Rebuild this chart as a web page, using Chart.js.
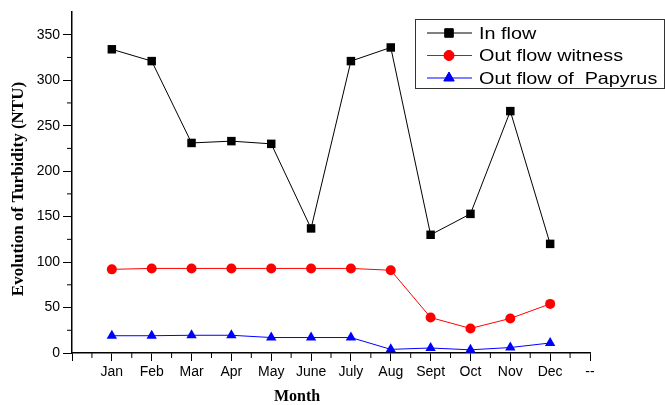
<!DOCTYPE html>
<html>
<head>
<meta charset="utf-8">
<script src="https://cdn.jsdelivr.net/npm/chart.js@4.4.1/dist/chart.umd.min.js"></script>
<style>
  html, body { margin: 0; padding: 0; background: #fff; }
  #wrap { width: 665px; height: 405px; position: relative; }
</style>
</head>
<body>
<div id="wrap"><canvas id="turbidityChart"></canvas></div>
<script>
// Data
const months = ["", "Jan", "Feb", "Mar", "Apr", "May", "June", "July", "Aug", "Sept", "Oct", "Nov", "Dec", "--"];
const inFlow = [null, 334, 321, 231, 233, 230, 137, 321, 336, 130, 153, 266, 120, null];
const outFlowWitness = [null, 92, 93, 93, 93, 93, 93, 93, 91, 39, 27, 38, 54, null];
const outFlowPapyrus = [null, 19, 19, 19.5, 19.5, 17, 17, 17, 4, 5.5, 3.5, 6, 11, null];
const yTicks = [0, 50, 100, 150, 200, 250, 300, 350];
const xTitle = "Month";
const yTitle = "Evolution of Turbidity (NTU)";

const tickFont = { family: "'Liberation Sans', Arial, sans-serif", size: 14 };
const serifBold = "bold 17px 'Liberation Serif', 'Times New Roman', serif";

// minor ticks, axis titles and a legend with line + marker
const extrasPlugin = {
  id: "extras",
  afterDraw(chart) {
    const ctx = chart.ctx;
    const x = chart.scales.x;
    const y = chart.scales.y;
    const area = chart.chartArea;
    ctx.save();
    ctx.strokeStyle = "#000";
    ctx.lineWidth = 1;
    ctx.beginPath();
    for (let i = 0; i < months.length - 1; i++) {
      const px = (x.getPixelForValue(i) + x.getPixelForValue(i + 1)) / 2;
      ctx.moveTo(px, area.bottom);
      ctx.lineTo(px, area.bottom + 5);
    }
    for (let v = 25; v < 375; v += 50) {
      const py = y.getPixelForValue(v);
      ctx.moveTo(area.left, py);
      ctx.lineTo(area.left - 5, py);
    }
    ctx.stroke();

    // axis titles
    ctx.fillStyle = "#000";
    ctx.textAlign = "center";
    ctx.textBaseline = "middle";
    ctx.font = "bold 16px 'Liberation Serif', 'Times New Roman', serif";
    ctx.fillText(xTitle, 297, 397);
    ctx.save();
    ctx.translate(19, 189);
    ctx.rotate(-Math.PI / 2);
    ctx.font = serifBold;
    ctx.fillText(yTitle, 0, 0);
    ctx.restore();

    // legend box
    const bx = 415, by = 19, bw = 249, bh = 69;
    ctx.strokeStyle = "#333";
    ctx.lineWidth = 1;
    ctx.strokeRect(bx + 0.5, by + 0.5, bw, bh);
    ctx.textAlign = "left";
    chart.data.datasets.forEach((ds, i) => {
      const ry = by + 14 + i * 22.5;
      ctx.strokeStyle = ds.borderColor;
      ctx.lineWidth = 1;
      ctx.beginPath();
      ctx.moveTo(bx + 12, ry);
      ctx.lineTo(bx + 57, ry);
      ctx.stroke();
      Chart.helpers.drawPoint(ctx, {
        pointStyle: ds.pointStyle,
        radius: ds.pointRadius,
        borderWidth: 1
      }, bx + 34, ry);
      ctx.fillStyle = ds.borderColor;
      ctx.fill();
      // text in the figure is a bit wider than plain Arial
      ctx.save();
      ctx.translate(bx + 64, ry + 1);
      ctx.scale(1.2, 1);
      ctx.font = "16.5px 'Liberation Sans', Arial, sans-serif";
      ctx.fillStyle = "#000";
      ctx.fillText(ds.label, 0, 0);
      ctx.restore();
    });
    ctx.restore();
  }
};

const ctx = document.getElementById("turbidityChart").getContext("2d");

new Chart(ctx, {
  type: "line",
  data: {
    labels: months,
    datasets: [
      {
        label: "In flow",
        data: inFlow,
        borderColor: "#000000",
        backgroundColor: "#000000",
        borderWidth: 1,
        pointStyle: "rect",
        pointRadius: 6,
        pointBorderWidth: 0,
        tension: 0
      },
      {
        label: "Out flow witness",
        data: outFlowWitness,
        borderColor: "#ff0000",
        backgroundColor: "#ff0000",
        borderWidth: 1,
        pointStyle: "circle",
        pointRadius: 5,
        pointBorderWidth: 0,
        tension: 0
      },
      {
        label: "Out flow of  Papyrus",
        data: outFlowPapyrus,
        borderColor: "#0000ff",
        backgroundColor: "#0000ff",
        borderWidth: 1,
        pointStyle: "triangle",
        pointRadius: 6,
        pointBorderWidth: 0,
        tension: 0
      }
    ]
  },
  options: {
    responsive: true,
    maintainAspectRatio: false,
    animation: false,
    layout: { padding: { top: 12, right: 75, left: 0, bottom: 0 } },
    plugins: {
      legend: { display: false },
      tooltip: { enabled: false }
    },
    scales: {
      x: {
        type: "category",
        offset: false,
        grid: { display: true, drawOnChartArea: false, tickLength: 8, color: "#000", lineWidth: 1 },
        border: { display: true, color: "#000", width: 1.5 },
        ticks: { color: "#000", font: tickFont, padding: 3, maxRotation: 0, autoSkip: false },
        afterFit: (scale) => { scale.height = 52; }
      },
      y: {
        min: 0,
        max: 375,
        grid: { display: true, drawOnChartArea: false, tickLength: 9, color: "#000", lineWidth: 1 },
        border: { display: true, color: "#000", width: 1.5 },
        ticks: { color: "#000", font: tickFont, padding: 3, stepSize: 50 },
        afterBuildTicks: (scale) => {
          scale.ticks = yTicks.map((v) => ({ value: v }));
        },
        afterFit: (scale) => { scale.width = 72; }
      }
    }
  },
  plugins: [extrasPlugin]
});
</script>
</body>
</html>
